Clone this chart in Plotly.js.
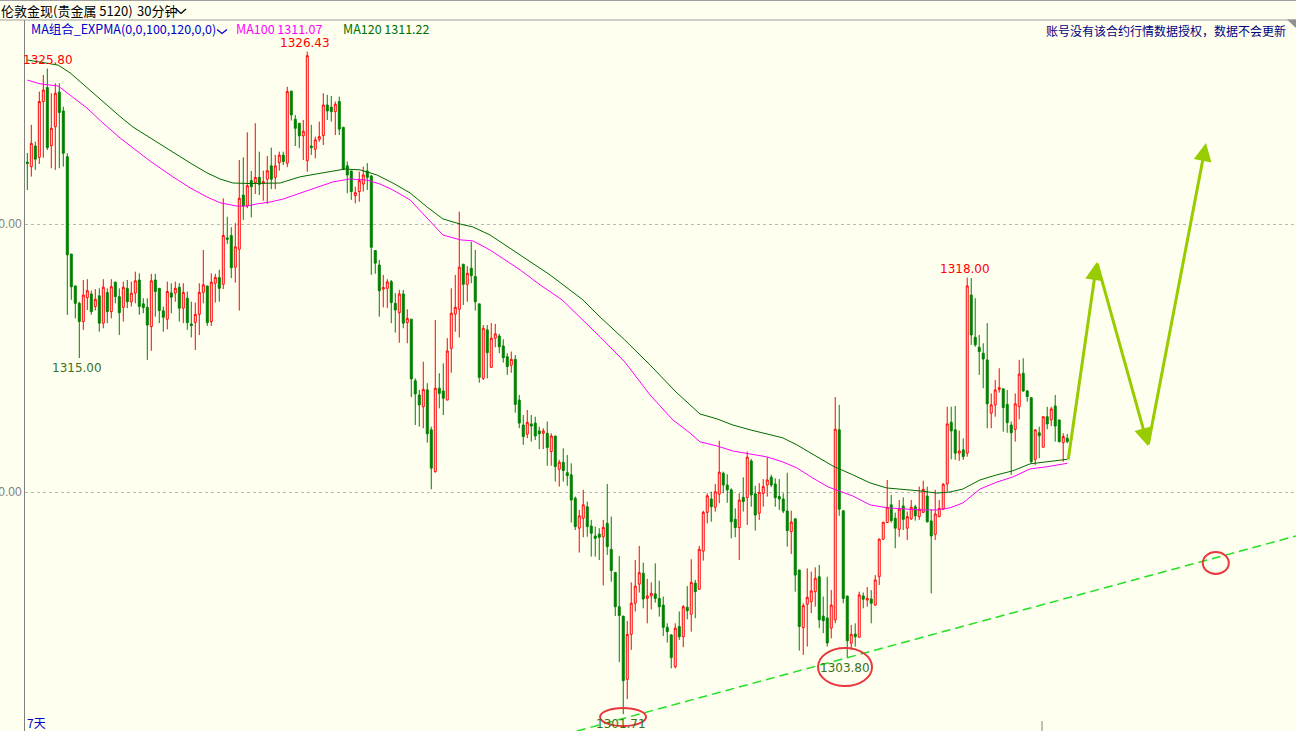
<!DOCTYPE html>
<html><head><meta charset="utf-8">
<script src="https://cdn.plot.ly/plotly-3.0.1.min.js"></script>
<style>html,body{margin:0;padding:0;background:#FFFFF0;overflow:hidden}#chart{width:1296px;height:731px}</style>
</head><body><div id="chart"></div>
<script>
// ---- candle data (30-minute bars, 伦敦金现) ----
const openP = [1322.31,1322.14,1322.91,1322.49,1324.57,1325.09,1322.92,1323.63,1324.92,1324.22,
1322.51,1318.88,1317.69,1317.04,1316.36,1317.25,1317.39,1316.92,1317.32,1316.30,
1317.44,1316.73,1317.83,1317.29,1316.89,1317.60,1317.10,1317.42,1317.91,1317.02,
1316.89,1316.17,1317.91,1317.60,1316.76,1316.45,1317.43,1317.42,1317.64,1316.86,
1317.23,1316.27,1316.33,1316.63,1317.45,1317.69,1316.36,1317.79,1318.00,1317.75,
1319.48,1319.57,1318.39,1319.06,1321.08,1320.67,1321.62,1321.54,1321.74,1321.52,
1321.67,1322.17,1321.74,1322.29,1322.57,1322.27,1324.96,1323.91,1323.76,1323.29,
1322.36,1322.91,1322.79,1323.16,1323.30,1324.44,1324.36,1324.19,1324.57,1323.61,
1322.17,1321.98,1321.06,1321.21,1321.49,1321.98,1321.79,1319.01,1318.47,1317.57,
1317.60,1317.85,1317.04,1316.69,1317.39,1316.32,1316.45,1314.15,1313.62,1313.18,
1313.81,1312.32,1310.76,1313.87,1313.77,1313.43,1315.36,1316.64,1316.82,1318.50,
1317.75,1318.35,1318.04,1317.02,1314.24,1316.05,1314.65,1315.74,1315.82,1315.45,
1315.05,1314.73,1314.95,1313.43,1312.50,1312.16,1312.54,1312.57,1312.28,1312.19,
1312.19,1311.51,1312.09,1310.85,1311.11,1310.72,1310.64,1309.77,1308.65,1309.02,
1309.45,1308.73,1308.36,1308.43,1308.33,1308.83,1307.86,1307.00,1305.72,1305.37,
1303.01,1304.69,1305.85,1306.56,1306.97,1306.03,1306.12,1306.20,1306.03,1305.78,
1304.95,1304.67,1303.48,1304.98,1304.60,1305.70,1305.44,1306.60,1306.37,1307.80,
1309.24,1309.74,1309.43,1309.92,1310.70,1310.26,1310.08,1308.98,1308.67,1309.80,
1309.79,1311.16,1309.93,1309.21,1309.95,1310.26,1310.55,1310.30,1309.83,1309.74,
1309.29,1308.52,1309.00,1307.09,1304.94,1305.81,1305.91,1306.28,1306.84,1305.37,
1305.30,1304.92,1305.23,1312.32,1309.30,1306.12,1304.36,1304.70,1304.58,1306.12,
1305.97,1306.01,1305.78,1306.84,1308.24,1308.86,1309.52,1309.02,1308.61,1309.48,
1308.65,1309.00,1309.45,1309.08,1309.24,1309.85,1308.92,1308.42,1309.08,1309.36,
1310.30,1312.60,1312.32,1311.45,1311.57,1311.45,1317.35,1315.77,1315.40,1315.18,
1314.93,1312.94,1313.25,1313.83,1313.85,1313.27,1312.50,1312.34,1313.18,1314.43,
1313.77,1313.52,1311.22,1312.21,1311.67,1312.81,1312.69,1313.21,1312.69,1311.84,
1312.01];
const highP = [1322.65,1323.70,1323.07,1324.94,1325.56,1325.80,1324.88,1325.25,1325.25,1324.38,
1322.64,1318.88,1317.69,1317.10,1317.91,1317.94,1317.51,1317.57,1317.60,1317.94,
1317.60,1317.94,1317.85,1317.60,1317.85,1317.91,1317.85,1318.22,1318.16,1317.23,
1317.23,1318.14,1318.14,1317.60,1316.92,1317.85,1317.79,1317.85,1317.79,1317.79,
1317.48,1317.10,1317.07,1317.79,1319.03,1317.69,1318.16,1318.14,1318.29,1320.96,
1320.27,1319.88,1320.03,1322.39,1322.49,1323.42,1321.98,1323.76,1322.70,1321.99,
1322.54,1322.85,1322.58,1322.70,1322.70,1325.12,1324.96,1324.07,1323.76,1323.88,
1326.43,1323.70,1323.26,1323.82,1324.88,1324.82,1324.78,1324.57,1324.75,1323.61,
1322.33,1321.98,1321.39,1321.95,1322.14,1322.27,1321.83,1319.01,1318.66,1318.10,
1317.94,1317.91,1317.42,1317.54,1317.54,1316.82,1316.45,1314.24,1313.81,1314.86,
1314.06,1312.44,1316.42,1314.43,1314.80,1315.74,1317.60,1318.10,1320.46,1318.50,
1318.43,1319.34,1319.03,1317.02,1316.23,1316.23,1316.30,1316.27,1315.90,1315.70,
1315.18,1315.24,1315.11,1313.62,1312.87,1313.06,1312.87,1312.81,1312.44,1312.38,
1312.63,1312.19,1312.09,1311.20,1311.63,1311.38,1311.07,1309.83,1309.33,1310.08,
1309.64,1308.96,1308.71,1308.65,1308.96,1310.30,1309.08,1307.00,1307.61,1305.37,
1305.19,1306.63,1307.46,1307.99,1307.36,1306.76,1306.63,1307.34,1306.69,1306.10,
1305.10,1304.67,1305.10,1305.54,1305.78,1306.49,1307.49,1306.72,1307.99,1309.30,
1309.95,1310.01,1310.30,1311.91,1310.76,1310.66,1310.14,1309.39,1309.95,1310.55,
1311.51,1311.23,1310.23,1310.33,1310.48,1311.30,1310.64,1310.51,1310.48,1309.95,
1310.72,1309.30,1309.00,1307.09,1305.85,1307.15,1307.03,1307.19,1307.28,1306.10,
1306.84,1306.34,1313.54,1313.25,1309.30,1306.12,1305.04,1305.10,1306.28,1306.25,
1306.45,1306.34,1306.90,1308.27,1308.89,1310.45,1309.89,1309.23,1309.70,1309.80,
1309.27,1309.70,1309.52,1310.20,1310.42,1310.20,1309.36,1310.08,1309.70,1310.33,
1313.18,1313.18,1313.21,1312.29,1312.00,1318.00,1317.98,1317.23,1315.86,1315.55,
1316.30,1313.68,1314.18,1314.62,1313.85,1313.81,1312.63,1313.68,1314.93,1314.99,
1313.81,1313.52,1312.32,1312.44,1312.81,1313.18,1313.18,1313.62,1312.69,1312.19,
1312.17];
const lowP = [1321.27,1321.77,1322.02,1322.24,1322.47,1322.76,1322.08,1322.02,1322.08,1322.14,
1316.61,1317.17,1316.48,1315.00,1316.05,1316.79,1316.61,1316.77,1315.98,1316.11,
1316.30,1316.48,1317.04,1315.86,1316.36,1316.86,1316.92,1317.04,1316.61,1316.67,
1314.93,1315.27,1316.54,1316.30,1315.98,1316.07,1316.67,1317.10,1316.36,1316.30,
1316.05,1315.77,1315.30,1315.86,1317.04,1316.20,1316.20,1317.07,1317.10,1317.57,
1319.26,1317.98,1317.81,1316.77,1320.15,1320.59,1320.25,1321.12,1321.08,1320.87,
1320.75,1321.30,1321.30,1321.99,1322.20,1322.12,1323.86,1322.91,1322.83,1322.39,
1321.95,1322.58,1322.45,1323.07,1322.95,1323.88,1323.82,1323.32,1323.32,1322.04,
1321.15,1320.90,1320.77,1320.83,1321.21,1321.27,1318.10,1318.14,1316.54,1316.89,
1316.86,1316.30,1315.95,1315.57,1316.11,1315.55,1313.54,1312.50,1312.44,1312.38,
1311.84,1310.10,1310.72,1313.12,1312.87,1313.43,1314.45,1315.98,1315.77,1316.98,
1317.10,1317.79,1316.77,1314.08,1314.18,1314.24,1314.65,1315.40,1315.18,1314.83,
1314.37,1314.45,1312.96,1312.38,1311.76,1312.01,1311.88,1311.94,1311.60,1311.60,
1310.98,1310.98,1310.39,1310.20,1310.39,1310.23,1308.86,1308.58,1307.74,1308.31,
1308.33,1307.59,1307.59,1307.46,1306.51,1307.65,1306.65,1305.37,1303.65,1301.71,
1302.27,1304.11,1305.54,1306.25,1305.66,1305.10,1305.62,1305.87,1305.35,1304.63,
1304.38,1303.42,1303.42,1304.48,1304.21,1305.25,1304.79,1305.29,1306.37,1307.44,
1308.83,1308.89,1309.27,1309.58,1309.95,1309.60,1308.27,1308.31,1307.46,1309.27,
1308.77,1309.45,1308.56,1308.96,1309.45,1309.83,1310.18,1309.45,1309.33,1309.21,
1307.96,1307.69,1306.28,1304.08,1303.92,1304.23,1305.48,1305.72,1304.92,1304.73,
1304.23,1304.54,1305.10,1309.11,1305.85,1303.80,1304.11,1304.23,1304.58,1305.66,
1305.72,1305.10,1305.75,1306.53,1308.21,1308.86,1308.86,1307.90,1308.33,1308.58,
1308.21,1308.96,1308.93,1308.96,1309.23,1308.86,1306.22,1308.21,1309.06,1309.33,
1310.01,1311.22,1311.20,1311.16,1311.20,1311.32,1315.49,1315.42,1314.37,1313.87,
1312.38,1312.38,1312.81,1313.71,1312.25,1312.21,1310.64,1311.88,1312.71,1313.74,
1313.37,1311.07,1311.01,1311.26,1311.67,1312.34,1312.46,1311.88,1311.84,1311.13,
1311.82];
const closeP = [1322.26,1323.01,1322.42,1324.57,1325.00,1322.85,1323.57,1324.88,1324.16,1322.64,
1318.85,1317.66,1317.04,1316.36,1317.35,1317.51,1316.73,1317.19,1316.30,1317.64,
1316.73,1317.66,1317.29,1316.69,1317.64,1317.10,1317.42,1317.88,1316.92,1316.88,
1316.23,1317.88,1317.48,1316.77,1316.52,1317.48,1317.27,1317.60,1316.86,1317.45,
1316.32,1316.21,1316.63,1317.45,1317.73,1316.32,1317.83,1318.01,1317.60,1319.57,
1319.43,1318.37,1319.15,1320.96,1320.67,1321.43,1321.39,1321.74,1321.48,1321.58,
1321.99,1321.67,1322.17,1322.57,1322.33,1324.94,1324.07,1323.57,1323.29,1323.46,
1326.28,1322.85,1323.14,1323.26,1324.44,1324.22,1324.19,1324.47,1323.54,1322.04,
1321.83,1321.21,1321.17,1321.62,1321.83,1321.74,1319.13,1318.54,1317.51,1317.63,
1317.84,1317.07,1316.79,1317.39,1316.30,1316.48,1314.22,1313.66,1313.25,1313.83,
1312.17,1310.89,1313.87,1313.68,1313.50,1315.26,1316.67,1316.89,1318.39,1317.75,
1318.16,1318.07,1317.10,1314.28,1316.11,1315.20,1315.74,1315.90,1315.42,1315.01,
1314.68,1314.95,1313.27,1312.57,1312.07,1312.60,1312.46,1312.09,1312.17,1312.28,
1311.66,1312.09,1310.95,1311.11,1310.80,1310.61,1309.70,1308.71,1309.11,1309.52,
1308.71,1308.46,1308.27,1308.31,1308.68,1307.96,1307.07,1305.72,1305.39,1302.96,
1304.69,1305.85,1306.49,1306.99,1306.01,1306.12,1306.22,1306.03,1305.72,1304.95,
1304.79,1303.82,1304.92,1304.60,1305.72,1305.57,1306.63,1306.28,1307.86,1309.24,
1309.86,1309.45,1310.01,1310.74,1310.26,1310.08,1308.89,1308.67,1309.70,1309.64,
1311.30,1309.89,1309.14,1309.99,1310.20,1310.45,1310.26,1309.79,1309.74,1309.29,
1308.56,1308.88,1306.90,1304.98,1305.76,1306.07,1306.31,1306.78,1305.23,1305.20,
1304.37,1305.78,1312.34,1309.36,1306.03,1304.45,1304.69,1304.60,1306.16,1306.00,
1306.03,1305.85,1306.72,1308.24,1308.87,1309.43,1308.93,1308.65,1309.36,1308.98,
1309.08,1309.43,1309.11,1309.36,1310.10,1308.89,1308.36,1309.18,1309.39,1310.29,
1312.54,1312.28,1311.45,1311.53,1311.32,1317.69,1315.86,1315.49,1315.24,1314.96,
1313.29,1313.25,1313.81,1313.89,1313.15,1312.59,1312.21,1313.29,1314.40,1313.77,
1313.56,1311.13,1312.32,1312.10,1312.81,1312.54,1313.10,1312.46,1311.88,1312.07,
1311.88];

// ---- moving averages (EXPMA): bar index / price ----
const ma100X = [0,3.2,7.7,10.7,14.9,18.9,23.2,26.4,30.7,36.4,40.7,44.9,48.2,52.4,54.9,57.4,60.7,63.9,68.2,72.4,76.4,80.7,84.9,88.2,91.4,95.7,99.9,103.9,108.2,111.4,115.7,123.2,128.2,133.7,143.2,149.4,155.7,161.4,165.7,168.2,172.4,176.4,180.7,184.9,188.9,192.4,196.4,200.2,206.4,210.7,214.9,218.9,223.2,227.4,230.7,233.9,238.2,242.4,246.4,250.7,254.9,260];
const ma100Y = [1325.37,1325.23,1325.15,1324.82,1324.33,1323.77,1323.21,1322.84,1322.35,1321.76,1321.35,1321.01,1320.79,1320.67,1320.67,1320.75,1320.82,1320.93,1321.16,1321.38,1321.57,1321.68,1321.64,1321.49,1321.27,1320.90,1320.23,1319.59,1319.41,1319.37,1319.03,1318.29,1317.73,1317.17,1315.79,1314.85,1313.62,1312.69,1312.20,1311.87,1311.72,1311.53,1311.42,1311.31,1311.12,1310.90,1310.52,1310.19,1309.85,1309.52,1309.41,1309.37,1309.33,1309.33,1309.41,1309.59,1310.11,1310.37,1310.56,1310.86,1310.94,1311.07];
const ma120X = [0,7.7,10.7,14.9,18.9,23.2,26.4,30.7,36.4,40.7,44.9,48.2,51.4,55.7,63.2,68.2,72.4,76.4,79.4,83.2,87.4,91.4,95.7,99.9,103.9,108.2,111.4,115.7,123.2,130.7,138.9,143.2,149.4,155.7,162.2,168.2,172.4,176.4,180.7,184.9,188.9,192.4,195.7,198.2,201.4,206.4,210.7,214.9,218.9,223.2,227.4,230.7,233.9,238.2,242.4,246.4,250.7,254.9,260];
const ma120Y = [1326.12,1325.93,1325.64,1325.08,1324.55,1324.01,1323.62,1323.21,1322.69,1322.28,1321.91,1321.68,1321.53,1321.51,1321.53,1321.76,1321.87,1321.98,1322.05,1322.02,1321.83,1321.53,1321.16,1320.64,1320.19,1320.00,1319.89,1319.59,1318.85,1318.10,1317.17,1316.53,1315.67,1314.74,1313.73,1312.91,1312.73,1312.50,1312.32,1312.17,1312.02,1311.76,1311.46,1311.23,1310.97,1310.64,1310.34,1310.15,1310.11,1310.04,1309.96,1310.00,1310.11,1310.45,1310.64,1310.79,1311.05,1311.12,1311.22];

// ---- hand drawn analysis ----
const trendX = [137.4, 317.2];
const trendY = [1301.08, 1308.36];
const arrowX = [260.2, 267.4, 280.2, 294.7];
const arrowY = [1311.16, 1318.58, 1311.72, 1323.02];
const ringX0 = [143.2, 197.7, 293.9];
const ringX1 = [154.7, 211.2, 300.4];
const ringY0 = [1301.27, 1302.76, 1306.94];
const ringY1 = [1301.94, 1304.18, 1307.76];

// ---- extreme labels ----
const labelIdx = [5, 70, 235, 13, 205, 149];
const labelVal = [1325.80, 1326.43, 1318.00, 1315.00, 1303.80, 1301.71];
const labelAbove = [true, true, true, false, false, false];

// ---- axis ----
const yTicks = [1310, 1320];
const yTickText = ['1310.00', '1320.00'];
const yRange = [1301.082, 1327.612];
const xRange = [-0.575, 317.2];

const BG = '#FFFFF0';
const idx = openP.map((_, k) => k);

const traces = [
  {type: 'candlestick', x: idx, open: openP, high: highP, low: lowP, close: closeP,
   increasing: {line: {color: '#FF0000', width: 1}, fillcolor: BG},
   decreasing: {line: {color: '#008000', width: 1}, fillcolor: '#008000'},
   whiskerwidth: 0, hoverinfo: 'skip', showlegend: false},
  {type: 'scatter', mode: 'lines', x: ma120X, y: ma120Y, line: {color: '#006A00', width: 1}, hoverinfo: 'skip', showlegend: false},
  {type: 'scatter', mode: 'lines', x: ma100X, y: ma100Y, line: {color: '#FF00FF', width: 1}, hoverinfo: 'skip', showlegend: false},
  {type: 'scatter', mode: 'lines', x: trendX, y: trendY, line: {color: '#22E022', width: 1.5, dash: '9px,5px'}, hoverinfo: 'skip', showlegend: false, cliponaxis: true}
];

const px = X => (X - 25) / 1271;
const py = Y => (731 - Y) / 711;

const annotations = [];
labelIdx.forEach((k, j) => {
  annotations.push({x: k, y: labelVal[j], xref: 'x', yref: 'y', text: labelVal[j].toFixed(2), showarrow: false,
    yanchor: 'middle', xanchor: 'center', yshift: labelAbove[j] ? 9 : -10, xshift: (j === 0 ? 0.7 : -2),
    font: {family: 'DejaVu Sans, sans-serif', size: 12, color: labelAbove[j] ? '#FF0000' : '#3C7020'}});
});
for (let k = 1; k < arrowX.length; k++) {
  annotations.push({x: arrowX[k], y: arrowY[k], ax: arrowX[k-1], ay: arrowY[k-1], xref: 'x', yref: 'y', axref: 'x', ayref: 'y',
    text: '', showarrow: true, arrowhead: 2, arrowsize: 1.2, arrowwidth: 3, arrowcolor: '#99CC00', standoff: 0, startstandoff: 0});
}
const hdr = (text, X, Y, color, size, anchor) => ({text, x: px(X), y: py(Y), xref: 'paper', yref: 'paper', showarrow: false,
  xanchor: anchor || 'left', yanchor: 'middle', font: {family: 'Noto Sans CJK SC, sans-serif', size, color}});
annotations.push(hdr('伦敦金现(贵金属 5120)', -1, 10, '#000000', 13));
annotations.push(hdr('30分钟', 135, 10, '#000000', 13));
annotations.push(hdr('MA组合_EXPMA(0,0,100,120,0,0)', 29, 29, '#0000CC', 12.5));
annotations.push(hdr('MA100 1311.07', 234, 29, '#FF00FF', 12.5));
annotations.push(hdr('MA120 1311.22', 341, 29, '#007000', 12.5));
annotations.push(hdr('账号没有该合约行情数据授权，数据不会更新', 1288, 30, '#000080', 12, 'right'));
annotations.push(hdr('7天', 25, 722, '#0000CC', 12));

const shapes = [];
ringX0.forEach((x0, j) => shapes.push({type: 'circle', xref: 'x', yref: 'y', x0, x1: ringX1[j], y0: ringY0[j], y1: ringY1[j],
  line: {color: '#E8383D', width: 2}, layer: 'above'}));
shapes.push({type: 'line', xref: 'paper', yref: 'paper', x0: px(0), x1: 1, y0: 1, y1: 1, line: {color: '#A0A0A0', width: 1}});
shapes.push({type: 'line', xref: 'paper', yref: 'paper', x0: px(0), x1: 1, y0: py(0.5), y1: py(0.5), line: {color: '#A0A0A0', width: 1}});
shapes.push({type: 'line', xref: 'paper', yref: 'paper', x0: px(1042), x1: px(1042), y0: 0, y1: py(721), line: {color: '#808080', width: 1}});
shapes.push({type: 'path', xref: 'paper', yref: 'paper', path: `M ${px(176)} ${py(9)} L ${px(181)} ${py(13.5)} L ${px(186)} ${py(9)}`, line: {color: '#000000', width: 1.3}});
shapes.push({type: 'path', xref: 'paper', yref: 'paper', path: `M ${px(217)} ${py(29.5)} L ${px(222)} ${py(33.5)} L ${px(227)} ${py(29.5)}`, line: {color: '#0000CC', width: 1.3}});
shapes.push({type: 'path', xref: 'paper', yref: 'paper', path: `M ${px(1287)} ${py(19.5)} L ${px(1296)} ${py(19.5)} L ${px(1296)} ${py(28)} Z`, fillcolor: '#909090', line: {width: 0}});

const layout = {
  width: 1296, height: 731,
  margin: {l: 25, r: 0, t: 20, b: 0, pad: 0},
  paper_bgcolor: BG, plot_bgcolor: BG,
  showlegend: false,
  xaxis: {range: xRange, showgrid: false, zeroline: false, showticklabels: false, ticks: '', showline: false,
          rangeslider: {visible: false}, fixedrange: true},
  yaxis: {range: yRange, tickvals: yTicks, ticktext: yTickText, showgrid: true, gridcolor: '#B8B8B8', griddash: 'dot', gridwidth: 1,
          zeroline: false, showline: true, linecolor: '#808080', linewidth: 1, ticks: '',
          tickfont: {family: 'Liberation Sans, Arial, sans-serif', size: 12, color: '#808080'}, fixedrange: true},
  annotations, shapes
};

Plotly.newPlot('chart', traces, layout, {displayModeBar: false, staticPlot: true});
</script>
</body></html>
